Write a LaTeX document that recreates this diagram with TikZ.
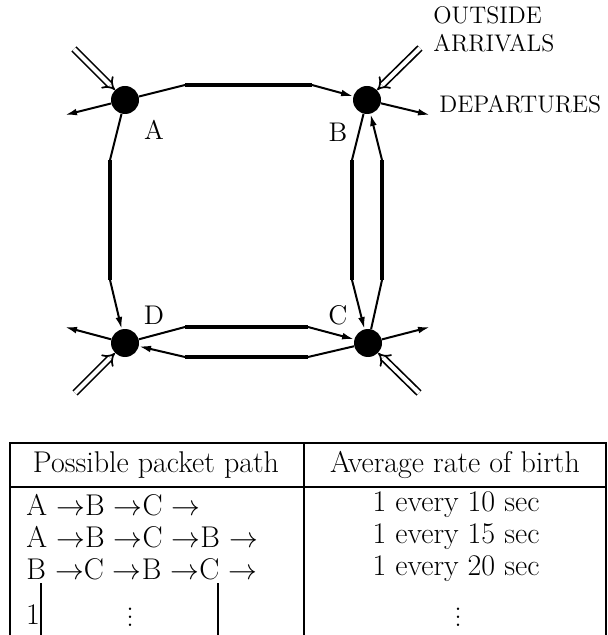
\documentclass[tikz,border=0pt]{standalone}
\usepackage{amsmath}
\usepackage{tikz}
\usetikzlibrary{arrows.meta}

\tikzset{
  station/.style={circle, fill=black, inner sep=0pt, minimum size=14pt},
  link/.style={line width=1pt, -{Latex[length=6pt,width=3.4pt]}},
  trunk/.style={line width=1.7pt},
  arrival/.style={double, line width=0.85pt, double distance=2pt, -{Implies[scale=1.3]}},
  lbl/.style={font=\fontsize{12}{14}\selectfont, inner sep=0pt},
  letter/.style={font=\fontsize{13.5}{15}\selectfont, inner sep=0pt},
  cell/.style={font=\fontsize{15}{17}\selectfont, inner sep=0pt},
  rule/.style={line width=1pt}
}

\begin{document}
\begin{tikzpicture}[x=0.5pt, y=-0.5pt]
    \useasboundingbox (0,0) rectangle (608,635);

    % --- Stations ---
    \node[station] (A) at (125,100) {};
    \node[station] (B) at (367,100) {};
    \node[station] (C) at (368,343) {};
    \node[station] (D) at (125,343) {};
    \node[letter] (labA) at (154,130) {A};
    \node[letter] (labB) at (338,132) {B};
    \node[letter] (labC) at (338,315) {C};
    \node[letter] (labD) at (154,315) {D};

    % --- Bend points ---
    \coordinate (ab1) at (185,85);  \coordinate (ab2) at (312,85);
    \coordinate (ad1) at (110,160); \coordinate (ad2) at (110,280);
    \coordinate (dc1) at (185,327); \coordinate (dc2) at (308,327);
    \coordinate (cd1) at (308,357); \coordinate (cd2) at (185,357);
    \coordinate (bc1) at (352,160); \coordinate (bc2) at (352,280);
    \coordinate (cb1) at (382,280); \coordinate (cb2) at (382,160);

    % --- Links between stations ---
    \draw[link] (A) -- (ab1) -- (ab2) -- (B);
    \draw[link] (A) -- (ad1) -- (ad2) -- (D);
    \draw[link] (D) -- (dc1) -- (dc2) -- (C);
    \draw[link] (C) -- (cd1) -- (cd2) -- (D);
    \draw[link] (B) -- (bc1) -- (bc2) -- (C);
    \draw[link] (C) -- (cb1) -- (cb2) -- (B);
    \draw[trunk] (ab1) -- (ab2);
    \draw[trunk] (ad1) -- (ad2);
    \draw[trunk] (dc1) -- (dc2);
    \draw[trunk] (cd1) -- (cd2);
    \draw[trunk] (bc1) -- (bc2);
    \draw[trunk] (cb1) -- (cb2);

    % --- Departures ---
    \coordinate (depA) at (65,115);
    \coordinate (depB) at (430,115);
    \coordinate (depC) at (430,327);
    \coordinate (depD) at (65,327);
    \draw[link] (A) -- (depA);
    \draw[link] (B) -- (depB);
    \draw[link] (C) -- (depC);
    \draw[link] (D) -- (depD);

    % --- Outside arrivals ---
    \coordinate (arrA) at (74,49);
    \coordinate (arrB) at (420,48);
    \coordinate (arrC) at (419,393);
    \coordinate (arrD) at (75,393);
    \draw[arrival] (arrA) -- (A);
    \draw[arrival] (arrB) -- (B);
    \draw[arrival] (arrC) -- (C);
    \draw[arrival] (arrD) -- (D);

    \node[lbl, anchor=west] (outside) at (433,15) {OUTSIDE};
    \node[lbl, anchor=west] (arrivals) at (433,43) {ARRIVALS};
    \node[lbl, anchor=west] (departures) at (439,104) {DEPARTURES};

    % --- Table of packet paths ---
    \draw[rule] (10,635) -- (10,443) -- (606,443) -- (606,635);
    \draw[rule] (10,487) -- (606,487);
    \draw[rule] (304,443) -- (304,635);
    \node[cell] (hpath) at (156,465) {Possible packet path};
    \node[cell] (hrate) at (455,465) {Average rate of birth};
    \node[cell, anchor=west] (path1) at (26,505) {A $\rightarrow$B $\rightarrow$C $\rightarrow$};
    \node[cell, anchor=west] (path2) at (26,537) {A $\rightarrow$B $\rightarrow$C $\rightarrow$B $\rightarrow$};
    \node[cell, anchor=west] (path3) at (26,569) {B $\rightarrow$C $\rightarrow$B $\rightarrow$C $\rightarrow$};
    \node[cell] (rate1) at (456,505) {1 every 10 sec};
    \node[cell] (rate2) at (456,537) {1 every 15 sec};
    \node[cell] (rate3) at (456,569) {1 every 20 sec};
    \node[cell] (one) at (33,615) {1};
    \node[cell] (pdots) at (130,611) {$\vdots$};
    \node[cell] (rdots) at (458,611) {$\vdots$};
    \draw[line width=0.6pt] (41,583) -- (41,635);
    \draw[rule] (218,583) -- (218,635);
\end{tikzpicture}
\end{document}
